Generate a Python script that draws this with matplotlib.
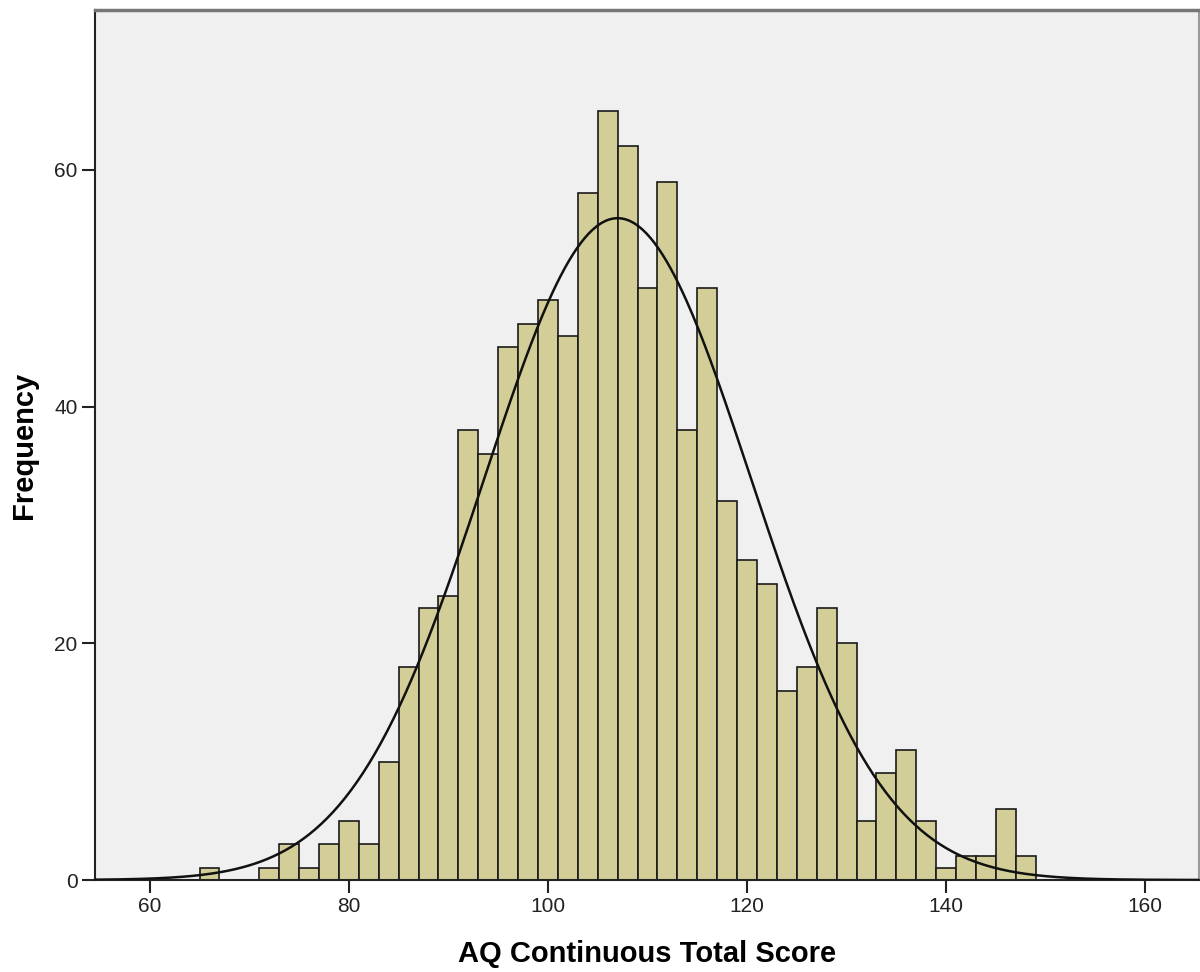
import numpy as np
import matplotlib
matplotlib.use("Agg")
import matplotlib.pyplot as plt

plt.rcParams['font.family'] = ['Liberation Sans', 'DejaVu Sans']

# Histogram data (bin width 2, edges at odd numbers)
bin_start = 65
bin_width = 2
counts = [1, 0, 0, 1, 3, 1, 3, 5, 3, 10, 18, 23, 24, 38, 36, 45, 47, 49, 46, 58,
          65, 62, 50, 59, 38, 50, 32, 27, 25, 16, 18, 23, 20, 5, 9, 11, 5, 1, 2, 2, 6, 2]
curve_mean = 107.0
curve_sd = 13.4
x_ticks = [60, 80, 100, 120, 140, 160]
y_ticks = [0, 20, 40, 60]
x_label = "AQ Continuous Total Score"
y_label = "Frequency"

edges = bin_start + bin_width * np.arange(len(counts) + 1)
n_total = sum(counts)

fig = plt.figure(figsize=(12, 9.72), dpi=100)
ax = fig.add_axes([95/1200, 92/972, 1104/1200, 870/972])
ax.set_facecolor('#F0F0F0')

ax.bar(edges[:-1], counts, width=bin_width, align='edge',
       color='#D3CE97', edgecolor='#1a1a1a', linewidth=1.2, zorder=2)

xs = np.linspace(50, 170, 600)
ys = n_total * bin_width / (curve_sd * np.sqrt(2 * np.pi)) * np.exp(-0.5 * ((xs - curve_mean) / curve_sd) ** 2)
ax.plot(xs, ys, color='#111111', linewidth=1.8, zorder=3)

ax.set_xlim(54.5, 165.4)
ax.set_ylim(0, 73.5)
ax.set_xticks(x_ticks)
ax.set_yticks(y_ticks)
ax.tick_params(axis='both', direction='out', length=9.5, width=1.5, labelsize=15,
               colors='#222222', pad=3)

for side in ['left', 'bottom']:
    ax.spines[side].set_color('#222222')
    ax.spines[side].set_linewidth(1.5)
ax.spines['top'].set_color('#777777')
ax.spines['top'].set_linewidth(2.5)
ax.spines['right'].set_color('#999999')
ax.spines['right'].set_linewidth(1.5)

ax.set_xlabel(x_label, fontsize=21, fontweight='bold', va='center')
ax.xaxis.set_label_coords(0.5, (880 - 954) / 870)
ax.set_ylabel(y_label, fontsize=21, fontweight='bold', va='center')
ax.yaxis.set_label_coords((24 - 95) / 1104, 0.5)

fig.savefig('out.png', dpi=100, facecolor='white')
